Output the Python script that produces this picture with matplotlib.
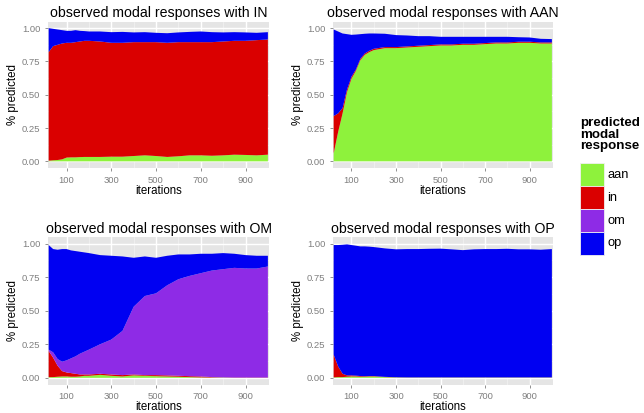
import matplotlib
matplotlib.use('Agg')
import matplotlib.pyplot as plt
from matplotlib.patches import Rectangle

plt.rcParams['font.family'] = ['Liberation Sans', 'DejaVu Sans']

# ---------------- data ----------------
iterations = [20, 40, 60, 80, 100, 120, 140, 160, 180, 200, 250, 300, 350, 400,
              450, 500, 550, 600, 650, 700, 750, 800, 850, 900, 950, 1000]
categories = ['aan', 'in', 'om', 'op']
colors = ['#8EF23C', '#DA0000', '#8E2BE6', '#0000F2']
panel_titles = ['observed modal responses with IN', 'observed modal responses with AAN',
                'observed modal responses with OM', 'observed modal responses with OP']

# observed IN
in_aan = [0.005, 0.008, 0.010, 0.015, 0.028, 0.030, 0.030, 0.032, 0.033, 0.033, 0.033, 0.035, 0.035,
          0.040, 0.045, 0.040, 0.033, 0.038, 0.045, 0.045, 0.042, 0.045, 0.050, 0.048, 0.045, 0.050]
in_in = [0.815, 0.857, 0.865, 0.870, 0.862, 0.860, 0.865, 0.868, 0.872, 0.872, 0.867, 0.855, 0.855,
         0.855, 0.850, 0.855, 0.857, 0.857, 0.850, 0.850, 0.853, 0.855, 0.855, 0.857, 0.865, 0.865]
in_om = [0.0] * 26
in_op = [0.180, 0.130, 0.115, 0.100, 0.090, 0.090, 0.090, 0.080, 0.073, 0.070, 0.075, 0.080, 0.082,
         0.073, 0.075, 0.070, 0.072, 0.073, 0.077, 0.080, 0.075, 0.068, 0.065, 0.063, 0.055, 0.055]

# observed AAN
aan_aan = [0.060, 0.220, 0.360, 0.520, 0.620, 0.680, 0.760, 0.800, 0.820, 0.835, 0.850, 0.850, 0.855,
           0.860, 0.865, 0.870, 0.870, 0.875, 0.875, 0.880, 0.885, 0.885, 0.890, 0.890, 0.885, 0.885]
aan_in = [0.280, 0.140, 0.040, 0.020, 0.015, 0.010, 0.010, 0.010, 0.010, 0.010, 0.008, 0.008, 0.008,
          0.008, 0.008, 0.008, 0.008, 0.008, 0.008, 0.008, 0.008, 0.008, 0.008, 0.008, 0.008, 0.008]
aan_om = [0.0] * 26
aan_op = [0.650, 0.615, 0.560, 0.415, 0.315, 0.262, 0.185, 0.148, 0.130, 0.115, 0.100, 0.090, 0.082,
          0.072, 0.067, 0.057, 0.057, 0.052, 0.052, 0.047, 0.042, 0.042, 0.034, 0.032, 0.027, 0.025]

# observed OM
om_aan = [0.005, 0.005, 0.008, 0.010, 0.010, 0.008, 0.008, 0.010, 0.015, 0.015, 0.022, 0.015, 0.010,
          0.018, 0.015, 0.012, 0.010, 0.008, 0.005, 0.003, 0.002, 0.002, 0.0, 0.0, 0.0, 0.0]
om_in = [0.195, 0.145, 0.082, 0.040, 0.030, 0.027, 0.022, 0.015, 0.010, 0.010, 0.008, 0.010, 0.010,
         0.007, 0.005, 0.008, 0.008, 0.007, 0.007, 0.007, 0.003, 0.001, 0.002, 0.002, 0.002, 0.002]
om_om = [0.010, 0.040, 0.050, 0.070, 0.090, 0.110, 0.130, 0.155, 0.170, 0.185, 0.220, 0.260, 0.330,
         0.505, 0.590, 0.610, 0.672, 0.720, 0.748, 0.770, 0.795, 0.807, 0.818, 0.813, 0.813, 0.828]
om_op = [0.780, 0.770, 0.815, 0.840, 0.830, 0.805, 0.785, 0.760, 0.740, 0.720, 0.665, 0.625, 0.555,
         0.365, 0.295, 0.265, 0.220, 0.185, 0.160, 0.145, 0.125, 0.120, 0.105, 0.100, 0.095, 0.080]

# observed OP
op_aan = [0.003, 0.005, 0.005, 0.008, 0.010, 0.010, 0.008, 0.008, 0.010, 0.010, 0.005, 0.003, 0.002,
          0.002, 0.002, 0.002, 0.002, 0.002, 0.002, 0.002, 0.002, 0.002, 0.002, 0.002, 0.002, 0.002]
op_in = [0.170, 0.080, 0.025, 0.010, 0.008, 0.006, 0.005, 0.004, 0.003, 0.003, 0.002, 0.001, 0.001,
         0.001, 0.001, 0.001, 0.001, 0.001, 0.001, 0.001, 0.001, 0.001, 0.001, 0.001, 0.001, 0.001]
op_om = [0.0] * 26
op_op = [0.817, 0.905, 0.962, 0.977, 0.972, 0.969, 0.967, 0.968, 0.965, 0.962, 0.958, 0.954, 0.957,
         0.957, 0.959, 0.960, 0.955, 0.949, 0.955, 0.957, 0.957, 0.959, 0.955, 0.955, 0.952, 0.957]

panel_series = [
    [in_aan, in_in, in_om, in_op],
    [aan_aan, aan_in, aan_om, aan_op],
    [om_aan, om_in, om_om, om_op],
    [op_aan, op_in, op_om, op_op],
]

x_ticks = [100, 300, 500, 700, 900]
x_minor = [200, 400, 600, 800]
y_ticks = [0.0, 0.25, 0.5, 0.75, 1.0]
y_tick_labels = ['0.00', '0.25', '0.50', '0.75', '1.00']
y_minor = [0.125, 0.375, 0.625, 0.875]

# ---------------- layout ----------------
W, H = 644, 413
fig = plt.figure(figsize=(W / 100, H / 100), dpi=100)
fig.patch.set_facecolor('white')


def rect(l, t, r, b):
    return [l / W, 1 - b / H, (r - l) / W, (b - t) / H]


panel_px = [(48, 21.5, 269, 168), (333, 21.5, 553, 168),
            (48, 237, 269, 384.5), (333, 237, 553, 384.5)]

grey_txt = '#7F7F7F'
for i, (box, series) in enumerate(zip(panel_px, panel_series)):
    ax = fig.add_axes(rect(*box))
    ax.set_facecolor('#E5E5E5')
    ax.stackplot(iterations, *series, colors=colors, linewidth=0, zorder=2)
    ax.set_xlim(17, 1005)
    ax.set_ylim(-0.05, 1.05)
    ax.set_xticks(x_ticks)
    ax.set_xticks(x_minor, minor=True)
    ax.set_yticks(y_ticks)
    ax.set_yticklabels(y_tick_labels)
    ax.set_yticks(y_minor, minor=True)
    ax.grid(True, which='major', color='white', linewidth=1.0, zorder=0)
    ax.grid(True, which='minor', color='#F2F2F2', linewidth=0.5, zorder=0)
    ax.set_axisbelow(True)
    for s in ax.spines.values():
        s.set_visible(False)
    ax.tick_params(which='major', length=2.3, width=0.6, color=grey_txt,
                   labelcolor=grey_txt, labelsize=6.8, pad=3.2)
    ax.tick_params(which='minor', length=0)
    ax.set_title(panel_titles[i], fontsize=10.2, pad=3.2)
    ax.set_xlabel('iterations', fontsize=8.3, labelpad=0)
    ax.set_ylabel('% predicted', fontsize=8.3, labelpad=2)

# ---------------- legend ----------------
fig.text(580 / W, 1 - 117 / H, 'predicted\nmodal\nresponse', fontsize=9.6,
         fontweight='bold', va='top', ha='left', linespacing=0.95)
key_top = 163.3
key_h = 22.9
for j, (cat, col) in enumerate(zip(categories, colors)):
    t = key_top + j * key_h
    fig.add_artist(Rectangle((580 / W, 1 - (t + key_h) / H), 23.5 / W, key_h / H,
                             transform=fig.transFigure, facecolor=col,
                             edgecolor='#F0F0F0', linewidth=0.6))
    fig.text(607 / W, 1 - (t + key_h / 2) / H, cat, fontsize=9.3,
             va='center', ha='left')

fig.savefig('out.png', dpi=100)
